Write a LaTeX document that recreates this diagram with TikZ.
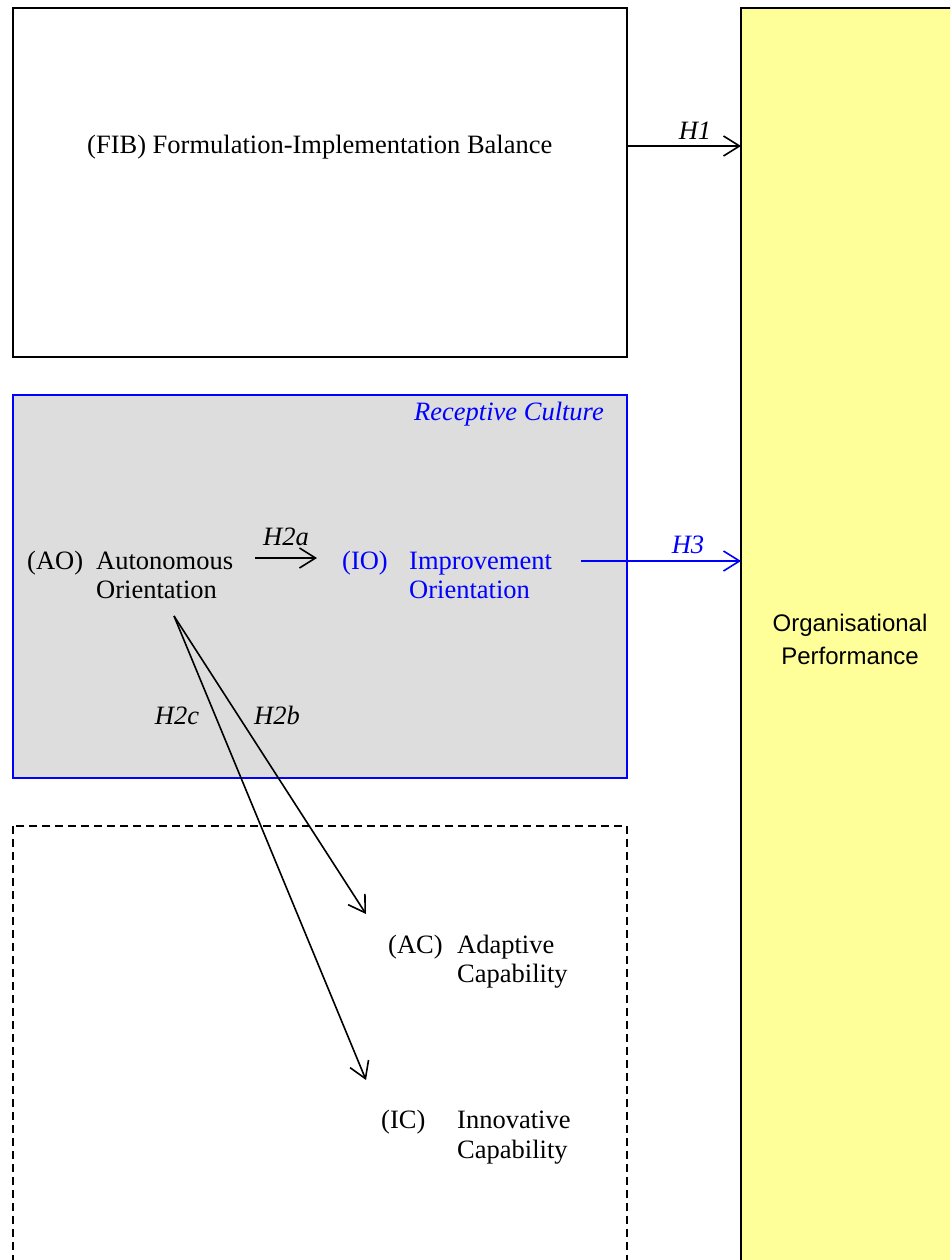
\documentclass[tikz,border=0pt]{standalone}
\usepackage{fontspec}
\setmainfont{Liberation Serif}
\newfontfamily\arialfont{Liberation Sans}
\usetikzlibrary{arrows.meta}
\definecolor{panelgray}{RGB}{221,221,221}
\definecolor{perfyellow}{RGB}{255,255,153}
\definecolor{pureblue}{RGB}{0,0,255}
\begin{document}
\begin{tikzpicture}[x=1pt,y=-1pt,
  frame/.style={line width=1.8pt},
  txt/.style={anchor=base west,inner sep=0pt,font=\fontsize{26.5}{30}\selectfont},
  hlabel/.style={anchor=base,inner sep=0pt,font=\fontsize{26.5}{30}\selectfont\itshape},
  perftxt/.style={anchor=base,inner sep=0pt,font=\arialfont\fontsize{24}{28}\selectfont},
  arr/.style={line width=1.6pt,-{Straight Barb[length=16pt,width=20pt,line width=1.6pt]}}]
\useasboundingbox (0,0) rectangle (950,1260);
\clip (0,0) rectangle (950,1260);

% construct boxes
\path[frame,draw=black,fill=white] (13,8) rectangle (627,357);
\path[frame,draw=pureblue,fill=panelgray] (13,395) rectangle (627,778);
\path[frame,draw=black,dash pattern=on 8pt off 5pt] (13,826) rectangle (627,1290);
\path[frame,draw=black,fill=perfyellow] (741,8) rectangle (975,1290);

% named anchors on the box edges
\coordinate (perfL) at (741,0);
\coordinate (h1s) at (627,146);
\coordinate (h3s) at (581,561);
\coordinate (h2as) at (255,558);
\coordinate (h2ae) at (317,558);
\coordinate (aofoot) at (174,616);
\coordinate (acin) at (366,914);
\coordinate (icin) at (366,1080);

% texts
\node[txt] (fib) at (87,154) {(FIB) Formulation-Implementation Balance};
\node[txt,text=pureblue,font=\fontsize{26.5}{30}\selectfont\itshape] (rc) at (414,420) {Receptive Culture};

\node[txt] (aoabbr) at (27,569) {(AO)};
\node[txt] (ao1) at (96,569) {Autonomous};
\node[txt] (ao2) at (96,598) {Orientation};

\node[txt,text=pureblue] (ioabbr) at (342,569) {(IO)};
\node[txt,text=pureblue] (io1) at (409,569) {Improvement};
\node[txt,text=pureblue] (io2) at (409,598) {Orientation};

\node[txt] (acabbr) at (388,953) {(AC)};
\node[txt] (ac1) at (457,953) {Adaptive};
\node[txt] (ac2) at (457,982) {Capability};

\node[txt] (icabbr) at (381,1128) {(IC)};
\node[txt] (ic1) at (457,1128) {Innovative};
\node[txt] (ic2) at (457,1158) {Capability};

\node[perftxt] (perf1) at (850,631) {Organisational};
\node[perftxt] (perf2) at (850,664) {Performance};

% hypothesis connectors
\draw[arr] (h1s) -- (h1s -| perfL);
\node[hlabel] (h1) at (695,140) {H1};

\draw[arr,draw=pureblue] (h3s) -- (h3s -| perfL);
\node[hlabel,text=pureblue] (h3) at (688,553) {H3};

\draw[arr] (h2as) -- (h2ae);
\node[hlabel] (h2a) at (286,545) {H2a};

\draw[arr] (aofoot) -- (acin);
\draw[arr] (aofoot) -- (icin);
\node[hlabel] (h2b) at (277,724) {H2b};
\node[hlabel] (h2c) at (177,724) {H2c};
\end{tikzpicture}
\end{document}
